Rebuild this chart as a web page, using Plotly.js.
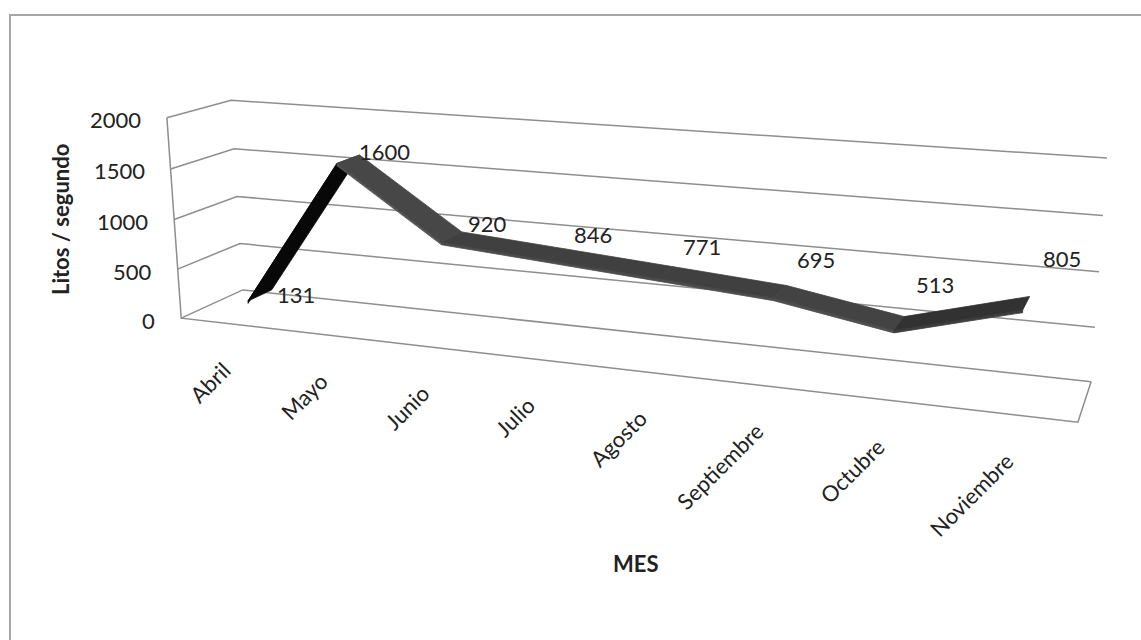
<!DOCTYPE html>
<html>
<head>
<meta charset="utf-8">
<script src="https://cdn.plot.ly/plotly-3.0.1.min.js"></script>
<style>
  html, body { margin: 0; padding: 0; background: #fff; }
  #chart { width: 1141px; height: 640px; }
</style>
</head>
<body>
<div id="chart"></div>
<script>
// Caudal mensual (litros / segundo)
const months = ['Abril', 'Mayo', 'Junio', 'Julio', 'Agosto', 'Septiembre', 'Octubre', 'Noviembre'];
const caudal = [131, 1600, 920, 846, 771, 695, 513, 805];
const yTicks = [0, 500, 1000, 1500, 2000];
const yMax = 2000;

// View of the 3-D plot box: box corner (X, Y, Z) -> page pixel (u, v).
// X runs along the categories, Y up the value axis (0..1), Z from back wall (0) to front (1).
const boxCorners = [
  [0, 0, 0, 243, 290],
  [1, 0, 0, 1091, 382],
  [1, 1, 0, 1107, 158],
  [0, 1, 0, 231, 100],
  [0, 0, 1, 181, 318],
  [1, 0, 1, 1078, 422],
  [0, 1, 1, 167, 118]
];
const ribbonDepth = [0.27, 0.67];   // back and front edge of the line ribbon
const ribbonThick = 0.012;          // height of the ribbon's front face
const FONT = 'Lato, "Open Sans", sans-serif';
const FSIZE = 22;
const TEXT = '#222222';
const GRID = '#8e8e8e';

// --- perspective camera fitted by least squares (DLT, p34 = 1) ---
function solve(M, r) {
  const n = r.length;
  const A = M.map((row, i) => row.concat([r[i]]));
  for (let c = 0; c < n; c++) {
    let piv = c;
    for (let k = c + 1; k < n; k++) if (Math.abs(A[k][c]) > Math.abs(A[piv][c])) piv = k;
    [A[c], A[piv]] = [A[piv], A[c]];
    for (let k = 0; k < n; k++) {
      if (k === c) continue;
      const f = A[k][c] / A[c][c];
      for (let j = c; j <= n; j++) A[k][j] -= f * A[c][j];
    }
  }
  return A.map((row, i) => row[n] / row[i]);
}
function fitCamera(pts) {
  const rows = [], rhs = [];
  pts.forEach(([X, Y, Z, u, v]) => {
    rows.push([X, Y, Z, 1, 0, 0, 0, 0, -u * X, -u * Y, -u * Z]); rhs.push(u);
    rows.push([0, 0, 0, 0, X, Y, Z, 1, -v * X, -v * Y, -v * Z]); rhs.push(v);
  });
  const N = [], r = [];
  for (let i = 0; i < 11; i++) {
    N.push([]);
    let s = 0;
    for (let k = 0; k < rows.length; k++) s += rows[k][i] * rhs[k];
    r.push(s);
    for (let j = 0; j < 11; j++) {
      let t = 0;
      for (let k = 0; k < rows.length; k++) t += rows[k][i] * rows[k][j];
      N[i].push(t);
    }
  }
  return solve(N, r);
}
const P = fitCamera(boxCorners);
function project(X, Y, Z) {
  const w = P[8] * X + P[9] * Y + P[10] * Z + 1;
  return [(P[0] * X + P[1] * Y + P[2] * Z + P[3]) / w,
          (P[4] * X + P[5] * Y + P[6] * Z + P[7]) / w];
}
const n = months.length;
const catX = i => (i + 0.5) / n;
const valY = v => v / yMax;

const traces = [];
function line(pts, color, width) {
  traces.push({
    type: 'scatter', mode: 'lines',
    x: pts.map(p => p[0]), y: pts.map(p => p[1]),
    line: { color: color, width: width }, hoverinfo: 'skip'
  });
}
function poly(pts, color) {
  const ring = pts.concat([pts[0]]);
  traces.push({
    type: 'scatter', mode: 'lines', fill: 'toself', fillcolor: color,
    x: ring.map(p => p[0]), y: ring.map(p => p[1]),
    line: { color: color, width: 0.8 }, hoverinfo: 'skip'
  });
}
const grey = g => `rgb(${g},${g},${g})`;

// chart-area border
line([[10, 650], [10, 15], [1150, 15]], '#a6a6a6', 2);

// back-wall and side-wall gridlines at each tick
yTicks.forEach(t => {
  const y = valY(t);
  line([project(1, y, 0), project(0, y, 0), project(0, y, 1)], GRID, 1.5);
});
// front edge of side wall and outline of the floor
line([project(0, 1, 1), project(0, 0, 1), project(1, 0, 1), project(1, 0, 0)], GRID, 1.5);

// line ribbon, one shaded panel per segment (light from upper right)
const aspect = 4.3;
const light = [0.5, 0.866];
const [zb, zf] = ribbonDepth;
for (let i = 0; i < n - 1; i++) {
  const x0 = catX(i), x1 = catX(i + 1);
  const y0 = valY(caudal[i]), y1 = valY(caudal[i + 1]);
  const dx = (x1 - x0) * aspect, dy = y1 - y0;
  const len = Math.hypot(dx, dy);
  const nrm = [-dy / len, dx / len];
  const dot = Math.max(0, (nrm[0] * light[0] + nrm[1] * light[1] - 0.1) / 0.9);
  const g = Math.round(255 * (0.03 + 0.25 * dot));
  // front face (thin strip under the front edge)
  poly([project(x0, y0, zf), project(x1, y1, zf),
        project(x1, y1 - ribbonThick, zf), project(x0, y0 - ribbonThick, zf)], grey(Math.min(255, g + 12)));
  // top face
  poly([project(x0, y0, zb), project(x1, y1, zb),
        project(x1, y1, zf), project(x0, y0, zf)], grey(g));
}

const annotations = [];
function note(pt, text, opts) {
  annotations.push(Object.assign({
    x: pt[0], y: pt[1], xref: 'x', yref: 'y', text: text, showarrow: false,
    font: { family: FONT, size: FSIZE, color: TEXT }
  }, opts));
}

// value-axis tick labels along the front edge of the side wall
yTicks.forEach(t => {
  note(project(0, valY(t), 1), String(t), { xanchor: 'right', yanchor: 'middle', xshift: -24, yshift: -2 });
});

// category labels below the floor front edge
months.forEach((m, i) => {
  note(project(catX(i), 0, 1), m, { xanchor: 'right', yanchor: 'top', textangle: -45, xshift: 10, yshift: -30 });
});

// data labels, set off to the upper right of each point
const zMid = (zb + zf) / 2;
caudal.forEach((v, i) => {
  note(project(catX(i), valY(v), zMid), String(v), {
    xanchor: 'center', yanchor: 'middle', xshift: 36, yshift: -2 + 50 * catX(i)
  });
});

// axis titles
annotations.push({
  x: 60, y: 220, xref: 'x', yref: 'y', text: '<b>Litos / segundo</b>', showarrow: false,
  textangle: -90, font: { family: FONT, size: FSIZE, color: TEXT }
});
annotations.push({
  x: 636, y: 563, xref: 'x', yref: 'y', text: '<b>MES</b>', showarrow: false,
  font: { family: FONT, size: FSIZE, color: TEXT }
});

const layout = {
  width: 1141, height: 640,
  margin: { l: 0, r: 0, t: 0, b: 0 },
  paper_bgcolor: '#ffffff', plot_bgcolor: '#ffffff',
  showlegend: false, hovermode: false,
  xaxis: { range: [0, 1141], visible: false, fixedrange: true },
  yaxis: { range: [640, 0], visible: false, fixedrange: true },
  annotations: annotations
};

Plotly.newPlot('chart', traces, layout, { displayModeBar: false, staticPlot: true });
</script>
</body>
</html>
